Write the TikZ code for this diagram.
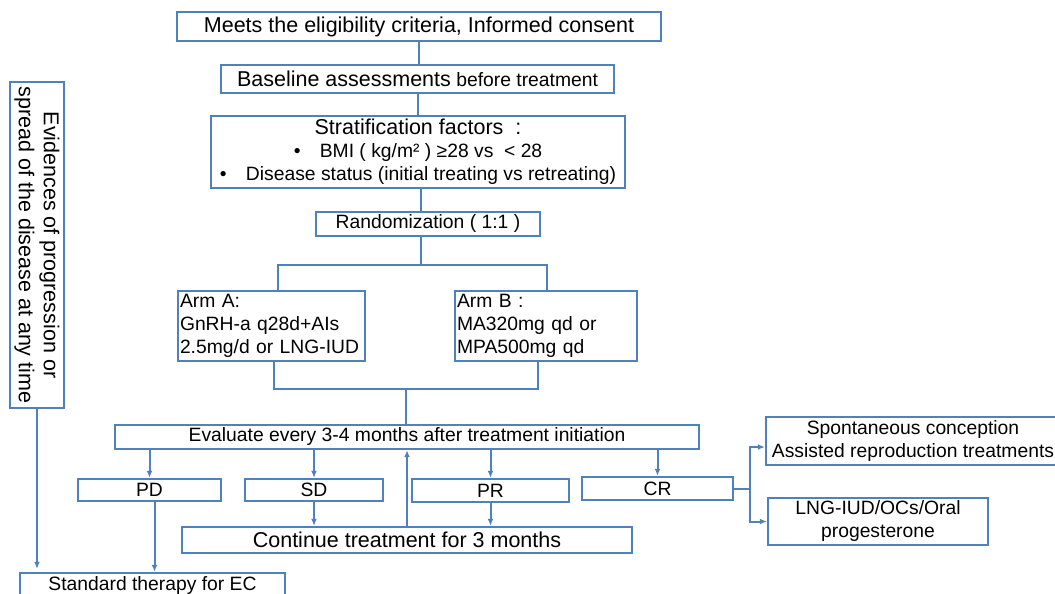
\documentclass[tikz,border=0pt]{standalone}
\usepackage{fontspec}
\setmainfont{Liberation Sans}
\usetikzlibrary{arrows.meta}
\definecolor{boxblue}{RGB}{79,129,189}
\newcommand{\bigf}{\fontsize{21.5}{25}\selectfont}
\newcommand{\smallf}{\fontsize{19.3}{23}\selectfont}
\tikzset{
  box/.style={draw=boxblue, line width=2.4pt, inner sep=2pt, align=center, font=\smallf},
  link/.style={draw=boxblue, line width=2pt},
  arr/.style={link, -{Latex[length=7pt,width=6pt]}}
}
\begin{document}
\begin{tikzpicture}[x=1pt,y=-1pt]
    \useasboundingbox (0,0) rectangle (1055,594);

    % Screening and baseline
    \node[box, font=\bigf, minimum width=484pt, minimum height=29pt] (elig) at (419,26.5) {Meets the eligibility criteria, Informed consent};
    \node[box, minimum width=393pt, minimum height=28pt] (base) at (417.5,79) {{\bigf Baseline assessments} before treatment};
    \node[box, minimum width=414pt, minimum height=72pt] (strat) at (418,152) {{\bigf Stratification factors\ \ :}\\
        •\quad BMI ( kg/m² ) ≥28 vs \ < 28\\
        •\quad Disease status (initial treating vs retreating)};
    \node[box, minimum width=224pt, minimum height=24pt] (rand) at (428,224) {Randomization ( 1:1 )};

    % Two arms
    \node[box, align=left, text width=183pt, minimum height=70pt] (armA) at (271.5,326) {Arm A:\\GnRH-a q28d+AIs\\2.5mg/d or LNG-IUD};
    \node[box, align=left, text width=178pt, minimum height=70pt] (armB) at (546,326) {Arm B :\\MA320mg qd or\\MPA500mg qd};

    % Evaluation and responses
    \node[box, minimum width=584pt, minimum height=24pt] (eval) at (407,437) {Evaluate every 3-4 months after treatment initiation};
    \node[box, minimum width=143pt, minimum height=22pt] (pd) at (149.5,490) {PD};
    \node[box, minimum width=138pt, minimum height=22pt] (sd) at (314,490) {SD};
    \node[box, minimum width=157pt, minimum height=23pt] (pr) at (490.5,490.5) {PR};
    \node[box, minimum width=151pt, minimum height=23pt] (cr) at (657.5,488.5) {CR};
    \node[box, font=\bigf, minimum width=450pt, minimum height=26pt] (cont) at (407,540) {Continue treatment for 3 months};
    \node[box, minimum width=265pt, minimum height=26pt] (std) at (152.5,586) {Standard therapy for EC};

    % Progression at any time
    \node[box, minimum width=54pt, minimum height=326pt] (evid) at (37,245) {};
    \node[rotate=-90, align=center, font=\bigf] at (evid) {Evidences of progression or\\spread of the disease at any time};

    % After CR
    \node[box, minimum width=294pt, minimum height=48pt] (spont) at (913,441) {Spontaneous conception\\Assisted reproduction treatments};
    \node[box, minimum width=220pt, minimum height=47pt] (lng) at (878,521.5) {LNG-IUD/OCs/Oral\\progesterone};

    % Connectors
    \draw[link] (elig.south) -- (elig.south |- base.north);
    \draw[link] (strat.north |- base.south) -- (strat.north);
    \draw[link] ([xshift=3pt]strat.south) -- ([xshift=3pt]strat.south |- rand.north);

    \coordinate (split) at (421,265);
    \coordinate (splitL) at (278,265);
    \coordinate (splitR) at (547,265);
    \draw[link] (split |- rand.south) -- (split);
    \draw[link] (splitL |- armA.north) -- (splitL) -- (splitR) -- (splitR |- armB.north);

    \coordinate (merge) at (406,389);
    \coordinate (mergeL) at (274,389);
    \coordinate (mergeR) at (538,389);
    \draw[link] (mergeL |- armA.south) -- (mergeL) -- (mergeR) -- (mergeR |- armB.south);
    \draw[link] (merge) -- (merge |- eval.north);

    \foreach \n in {pd,sd,pr,cr}
        \draw[arr] (eval.south -| \n.north) -- (\n.north);
    \draw[arr] (sd.south) -- (sd.south |- cont.north);
    \draw[arr] (pr.south) -- (pr.south |- cont.north);
    \draw[arr] (cont.north) -- (eval.south);
    \draw[arr] ([xshift=5pt]pd.south) -- ([xshift=5pt]pd.south |- std.north);
    \draw[arr] (evid.south) -- ([yshift=3pt]evid.south |- std.north);

    \coordinate (fork) at (750,488.5);
    \draw[link] (cr.east) -- (fork);
    \draw[arr] (fork) |- ([yshift=-6pt]spont.west);
    \draw[arr] (fork) |- (lng.west);
\end{tikzpicture}
\end{document}
